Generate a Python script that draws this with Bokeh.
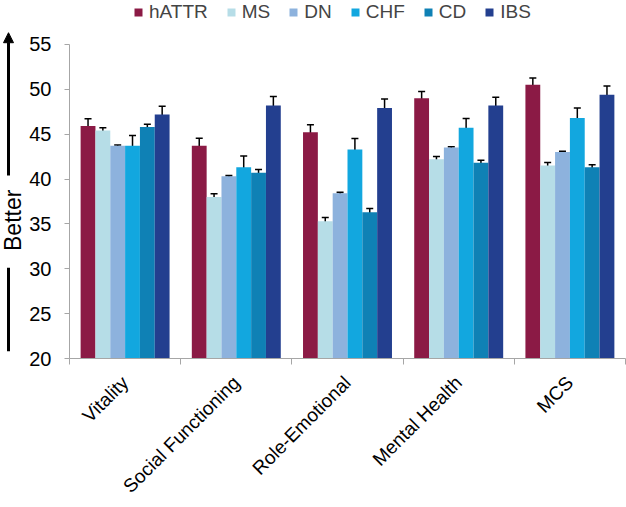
import math
from bokeh.plotting import figure
from bokeh.layouts import row
from bokeh.models import (Range1d, FixedTicker, Legend, LegendItem, Whisker, TeeHead,
                          ColumnDataSource, Label, Arrow, NormalHead)
from bokeh.embed import file_html
from bokeh.resources import INLINE

categories = ["Vitality", "Social Functioning", "Role-Emotional", "Mental Health", "MCS"]
series = ["hATTR", "MS", "DN", "CHF", "CD", "IBS"]
colors = ["#8B1A45", "#B6DDE7", "#8DB2DD", "#12A7DF", "#0F81B5", "#233F8F"]

hATTR = [45.9, 43.7, 45.2, 49.0, 50.5]
MS    = [45.4, 38.0, 35.3, 42.2, 41.5]
DN    = [43.7, 40.3, 38.4, 43.5, 43.0]
CHF   = [43.7, 41.3, 43.3, 45.7, 46.8]
CD    = [45.8, 40.7, 36.3, 41.8, 41.3]
IBS   = [47.2, 48.2, 47.9, 48.2, 49.4]

hATTR_err = [0.8, 0.85, 0.85, 0.75, 0.75]
MS_err    = [0.3, 0.35, 0.4, 0.3, 0.35]
DN_err    = [0.1, 0.1, 0.12, 0.1, 0.1]
CHF_err   = [1.15, 1.25, 1.2, 1.05, 1.1]
CD_err    = [0.3, 0.37, 0.4, 0.3, 0.3]
IBS_err   = [0.9, 1.0, 1.0, 0.9, 0.95]

values = [hATTR, MS, DN, CHF, CD, IBS]
errors = [hATTR_err, MS_err, DN_err, CHF_err, CD_err, IBS_err]

y_ticks = [20, 25, 30, 35, 40, 45, 50, 55]
Y0, Y1 = 20, 55

FONT = "Liberation Sans"

TOTAL_W, TOTAL_H = 626, 507
LEFT_W = 26
AXIS_TOP_PX = 44        # pixel distance from top of page to the "55" tick
BORDER_BOTTOM = 148
px_per_unit = (TOTAL_H - AXIS_TOP_PX - BORDER_BOTTOM) / (Y1 - Y0)
Y_TOP = Y1 + AXIS_TOP_PX / px_per_unit           # frame extends to the top of the page

# ---- main chart ----
p = figure(width=TOTAL_W - LEFT_W, height=TOTAL_H, output_backend="svg", toolbar_location=None,
           x_range=Range1d(0, len(categories)), y_range=Range1d(Y0, Y_TOP),
           min_border_left=68 - LEFT_W, min_border_right=1,
           min_border_top=0, min_border_bottom=BORDER_BOTTOM)
p.outline_line_color = None
p.xgrid.visible = False
p.ygrid.visible = False

bar_w = 0.8 / len(series)
renderers = []
for i, (name, vals, errs, col) in enumerate(zip(series, values, errors, colors)):
    xs = [j + 0.5 + (i - (len(series) - 1) / 2) * bar_w for j in range(len(categories))]
    src = ColumnDataSource(dict(x=xs, top=vals,
                                upper=[v + e for v, e in zip(vals, errs)],
                                lower=[v - e for v, e in zip(vals, errs)]))
    r = p.vbar(x="x", top="top", bottom=Y0, width=bar_w, source=src,
               fill_color=col, line_color=None)
    renderers.append(r)
    p.add_layout(Whisker(base="x", upper="upper", lower="lower", source=src,
                         line_color="black", line_width=1.5,
                         upper_head=TeeHead(size=7, line_color="black", line_width=1.5),
                         lower_head=TeeHead(size=7, line_color="black", line_width=1.5)))

p.xaxis.ticker = FixedTicker(ticks=[j + 0.5 for j in range(len(categories))],
                             minor_ticks=list(range(len(categories) + 1)))
p.xaxis.major_label_overrides = {j + 0.5: c for j, c in enumerate(categories)}
p.xaxis.major_tick_line_color = None
p.xaxis.major_tick_out = 6
p.xaxis.minor_tick_line_color = "#A6A6A6"
p.xaxis.minor_tick_out = 6
p.xaxis.minor_tick_in = 0
p.xaxis.axis_line_color = "#A6A6A6"
p.xaxis.major_label_orientation = math.pi / 4
p.xaxis.major_label_text_font = FONT
p.xaxis.major_label_text_font_size = "19px"
p.xaxis.major_label_text_color = "black"
p.xaxis.major_label_standoff = 15

p.yaxis.ticker = FixedTicker(ticks=y_ticks, minor_ticks=[])
p.yaxis.bounds = (Y0, Y1)
p.yaxis.axis_line_color = "#A6A6A6"
p.yaxis.major_tick_line_color = "#A6A6A6"
p.yaxis.major_tick_out = 5
p.yaxis.major_tick_in = 0
p.yaxis.major_label_text_font = FONT
p.yaxis.major_label_text_font_size = "20px"
p.yaxis.major_label_text_color = "black"
p.yaxis.major_label_standoff = 13

frame_h = TOTAL_H - BORDER_BOTTOM
legend = Legend(items=[LegendItem(label=s, renderers=[r]) for s, r in zip(series, renderers)],
                orientation="horizontal", location=(64, frame_h - 24),
                glyph_width=10, glyph_height=10, label_standoff=6, spacing=18,
                padding=0, margin=0, border_line_color=None, background_fill_alpha=0,
                label_text_font=FONT, label_text_font_size="19px", label_height=20)
p.add_layout(legend)

# ---- left strip with the "Better" arrow (same vertical scale as the chart) ----
left = figure(width=LEFT_W, height=TOTAL_H, output_backend="svg", toolbar_location=None,
              x_range=Range1d(0, LEFT_W), y_range=p.y_range,
              min_border=0, min_border_left=0, min_border_right=0,
              min_border_top=0, min_border_bottom=BORDER_BOTTOM)
left.axis.visible = False
left.grid.visible = False
left.outline_line_color = None

AX = 8
left.add_layout(Arrow(x_start=AX, y_start=40.4, x_end=AX, y_end=56.3,
                      line_color="black", line_width=3,
                      end=NormalHead(size=10, fill_color="black", line_color="black")))
left.add_layout(Arrow(x_start=AX, y_start=20.8, x_end=AX, y_end=30.1,
                      line_color="black", line_width=3, end=None))
left.add_layout(Label(x=AX + 4, y=35.4, text="Better", angle=math.pi / 2,
                      text_align="center", text_baseline="middle",
                      text_font=FONT, text_font_size="23px", text_color="black"))

layout = row(left, p, spacing=0)
open("out.html", "w").write(file_html(layout, INLINE))
